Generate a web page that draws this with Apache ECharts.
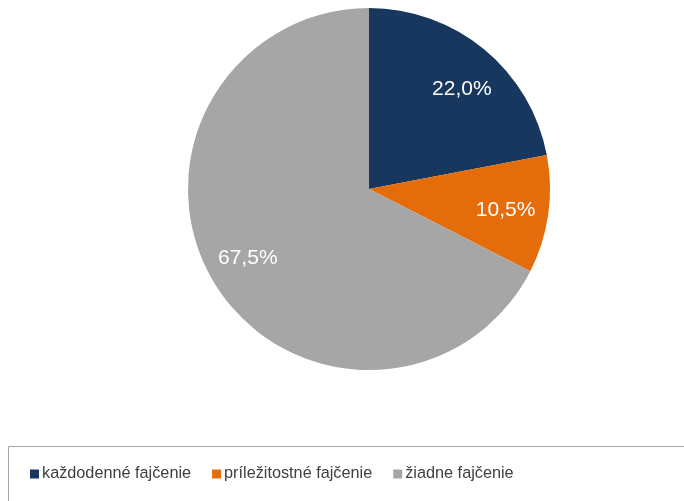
<!DOCTYPE html>
<html>
<head>
<meta charset="utf-8">
<script src="https://cdn.jsdelivr.net/npm/echarts@6/dist/echarts.min.js"></script>
<style>html,body{margin:0;padding:0;background:#fff}#c{width:684px;height:501px}</style>
</head>
<body>
<div id="c"></div>
<script>
const categories = ['každodenné fajčenie', 'príležitostné fajčenie', 'žiadne fajčenie'];
const values = [22.0, 10.5, 67.5];
const colors = ['#17375E', '#E46C0A', '#A6A6A6'];
const labelNudges = [[3, 9], [-3, 1], [-1, -4]];

const chart = echarts.init(document.getElementById('c'), null, {renderer: 'canvas'});
const data = categories.map((n, i) => ({name: n, value: values[i], itemStyle: {color: colors[i]}}));
const fmt = p => p.value.toFixed(1).replace('.', ',') + '%';
chart.setOption({
  animation: false,
  graphic: [{
    type: 'rect', silent: true,
    shape: {x: 8.5, y: 446.5, width: 700, height: 100},
    style: {fill: 'none', stroke: '#A6A6A6', lineWidth: 1}
  }],
  legend: {
    data: categories,
    left: 30, top: 465,
    padding: 0,
    icon: 'rect', itemWidth: 9, itemHeight: 9, itemGap: 21,
    textStyle: {fontFamily: 'Liberation Sans, Arial, sans-serif', fontSize: 16.25, color: '#404040', lineHeight: 18, padding: [0, 0, 0, -2]}
  },
  series: [{
    type: 'pie',
    center: [369, 189], radius: [0, 181],
    startAngle: 90, clockwise: true,
    label: {show: false}, labelLine: {show: false},
    emphasis: {disabled: true},
    data: data
  }, {
    type: 'pie',
    center: [369, 189], radius: [95, 181],
    startAngle: 90, clockwise: true,
    silent: true,
    itemStyle: {color: 'rgba(0,0,0,0)'},
    label: {show: true, position: 'inside', formatter: fmt, color: '#fff',
      fontFamily: 'Liberation Sans, Arial, sans-serif', fontSize: 21},
    labelLine: {show: false},
    emphasis: {disabled: true},
    data: categories.map((n, i) => ({name: n + ' ', value: values[i], label: {offset: labelNudges[i]}}))
  }]
});
</script>
</body>
</html>
